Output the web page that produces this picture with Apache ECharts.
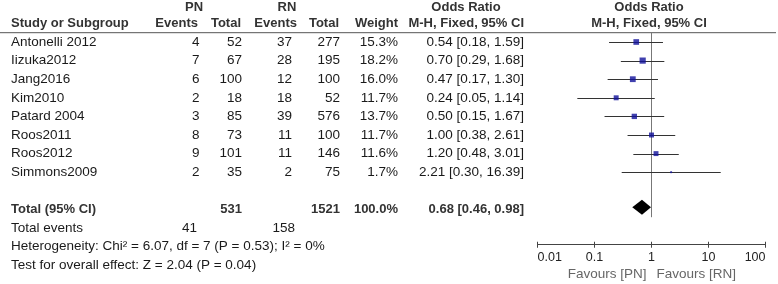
<!DOCTYPE html>
<html><head><meta charset="utf-8">
<script src="https://cdn.jsdelivr.net/npm/echarts@6/dist/echarts.min.js"></script>
<style>html,body{margin:0;padding:0;background:#fff}#c{width:778px;height:284px}</style>
</head><body><div id="c"></div>
<script>
const studies = ['Antonelli 2012','Iizuka2012','Jang2016','Kim2010','Patard 2004','Roos2011','Roos2012','Simmons2009'];
const pnEvents = [4,7,6,2,3,8,9,2];
const pnTotal = [52,67,100,18,85,73,101,35];
const rnEvents = [37,28,12,18,39,11,11,2];
const rnTotal = [277,195,100,52,576,100,146,75];
const weights = [15.3,18.2,16.0,11.7,13.7,11.7,11.6,1.7];
const oddsRatio = [0.54,0.70,0.47,0.24,0.50,1.00,1.20,2.21];
const ciLow = [0.18,0.29,0.17,0.05,0.15,0.38,0.48,0.30];
const ciHigh = [1.59,1.68,1.30,1.14,1.67,2.61,3.01,16.39];
const totalOR = [0.46,0.68,0.98];
const totalPN = 531, totalRN = 1521, totalWeight = '100.0%';
const totalEventsPN = 41, totalEventsRN = 158;
const heterogeneity = 'Heterogeneity: Chi² = 6.07, df = 7 (P = 0.53); I² = 0%';
const overallTest = 'Test for overall effect: Z = 2.04 (P = 0.04)';
const tickValues = [0.01,0.1,1,10,100];
const favours = ['Favours [PN]','Favours [RN]'];

const FF = '"Liberation Sans", Arial, sans-serif';
const REG = '13.5px ' + FF, BOLD = 'bold 13px ' + FF;
const TXT = '#1a1a1a', HDR = '#333';
// column layout (pixels)
const COL = {study:11, pnE:199.5, pnT:242, rnE:292, rnT:340, w:398, or:524, pnC:194, rnC:287, orC:466, plotC:649};

const cells = [];
function cell(row, x, text, align, font, color){ cells.push({row, x, text:String(text), align, font:font||REG, color:color||TXT}); }
// headers
cell(-1.88, COL.pnC, 'PN', 'center', BOLD, HDR);
cell(-1.88, COL.rnC, 'RN', 'center', BOLD, HDR);
cell(-1.88, COL.orC, 'Odds Ratio', 'center', BOLD, HDR);
cell(-1.88, COL.plotC, 'Odds Ratio', 'center', BOLD, HDR);
cell(-1, COL.study, 'Study or Subgroup', 'left', BOLD, HDR);
cell(-1, 198, 'Events', 'right', BOLD, HDR);
cell(-1, 241, 'Total', 'right', BOLD, HDR);
cell(-1, 297, 'Events', 'right', BOLD, HDR);
cell(-1, 339, 'Total', 'right', BOLD, HDR);
cell(-1, COL.w, 'Weight', 'right', BOLD, HDR);
cell(-1, COL.or, 'M-H, Fixed, 95% CI', 'right', BOLD, HDR);
cell(-1, COL.plotC, 'M-H, Fixed, 95% CI', 'center', BOLD, HDR);
studies.forEach((s,i)=>{
  cell(i, COL.study, s, 'left');
  cell(i, COL.pnE, pnEvents[i], 'right');
  cell(i, COL.pnT, pnTotal[i], 'right');
  cell(i, COL.rnE, rnEvents[i], 'right');
  cell(i, COL.rnT, rnTotal[i], 'right');
  cell(i, COL.w, weights[i].toFixed(1)+'%', 'right');
  cell(i, COL.or, oddsRatio[i].toFixed(2)+' ['+ciLow[i].toFixed(2)+', '+ciHigh[i].toFixed(2)+']', 'right');
});
const totRow = studies.length + 1;
cell(totRow, COL.study, 'Total (95% CI)', 'left', BOLD, HDR);
cell(totRow, COL.pnT, totalPN, 'right', BOLD, HDR);
cell(totRow, COL.rnT, totalRN, 'right', BOLD, HDR);
cell(totRow, COL.w, totalWeight, 'right', BOLD, HDR);
cell(totRow, COL.or, totalOR[1].toFixed(2)+' ['+totalOR[0].toFixed(2)+', '+totalOR[2].toFixed(2)+']', 'right', BOLD, HDR);
cell(totRow+1, COL.study, 'Total events', 'left');
cell(totRow+1, 197, totalEventsPN, 'right');
cell(totRow+1, 295, totalEventsRN, 'right');
cell(totRow+2, COL.study, heterogeneity, 'left');
cell(totRow+3, COL.study, overallTest, 'left');

const chart = echarts.init(document.getElementById('c'), null, {renderer:'canvas'});
const logAxisBase = {type:'log', logBase:10, min:0.01, max:100, splitLine:{show:false}, minorTick:{show:false}, minorSplitLine:{show:false}};
const option = {
  animation:false,
  grid:{left:537.5, width:228, top:32.7, height:212.04},
  xAxis:[
    Object.assign({}, logAxisBase, {
      position:'bottom',
      axisLine:{onZero:false, lineStyle:{color:'#444', width:1}},
      axisTick:{length:3, lineStyle:{color:'#444'}},
      axisLabel:{margin:6, fontSize:12.5, fontFamily:FF, color:'#222', alignMinLabel:'left', alignMaxLabel:'right',
        formatter:v=>String(parseFloat(Number(v).toPrecision(2)))}
    }),
    Object.assign({}, logAxisBase, {
      position:'bottom', axisLine:{show:false, onZero:false}, axisLabel:{show:false},
      axisTick:{inside:true, length:3, lineStyle:{color:'#444'}}
    })
  ],
  yAxis:{type:'value', inverse:true, min:-0.5, max:10.9, show:false},
  series:[
    { // header rule and null line
      type:'custom', silent:true, clip:false,
      data:[[1,-0.5, studies.length + 1.42]],
      renderItem:(p,api)=>{
        const top = api.coord([1, api.value(1)]);
        const bot = api.coord([1, api.value(2)]);
        return {type:'group', children:[
          {type:'line', shape:{x1:0, y1:top[1], x2:776, y2:top[1]}, style:{stroke:'#555', lineWidth:1}},
          {type:'line', shape:{x1:top[0], y1:top[1], x2:bot[0], y2:bot[1]}, style:{stroke:'#777', lineWidth:1}}
        ]};
      }
    },
    { // CI lines
      type:'custom', clip:false, silent:true,
      data:studies.map((s,i)=>[ciLow[i], ciHigh[i], i]),
      renderItem:(p,api)=>{
        const a = api.coord([api.value(0), api.value(2)]);
        const b = api.coord([api.value(1), api.value(2)]);
        return {type:'line', shape:{x1:a[0], y1:Math.round(a[1])+0.5, x2:b[0], y2:Math.round(a[1])+0.5}, style:{stroke:'#333', lineWidth:1}};
      }
    },
    { // squares
      type:'scatter', symbol:'rect', silent:true,
      data:studies.map((s,i)=>[oddsRatio[i], i, weights[i]]),
      symbolSize:v=>Math.max(1.8, Math.sqrt(v[2])*1.45),
      itemStyle:{color:'#10109a'}
    },
    { // diamond
      type:'custom', clip:false, silent:true,
      data:[[totalOR[0], totalOR[1], totalOR[2], totRow - 0.12]],
      renderItem:(p,api)=>{
        const r = api.value(3);
        const l = api.coord([api.value(0), r]);
        const c = api.coord([api.value(1), r]);
        const rr = api.coord([api.value(2), r]);
        const h = 7.5;
        return {type:'polygon', shape:{points:[[l[0],l[1]],[c[0],c[1]-h],[rr[0],rr[1]],[c[0],c[1]+h]]}, style:{fill:'#000'}};
      }
    },
    { // favours labels
      type:'custom', clip:false, silent:true,
      data:[[1, totRow + 3.5]],
      renderItem:(p,api)=>{
        const c = api.coord([api.value(0), api.value(1)]);
        return {type:'group', children:[
          {type:'text', style:{x:c[0]-5, y:c[1], text:favours[0], align:'right', verticalAlign:'middle', font:'13.5px '+FF, fill:'#666'}},
          {type:'text', style:{x:c[0]+5, y:c[1], text:favours[1], align:'left', verticalAlign:'middle', font:'13.5px '+FF, fill:'#666'}}
        ]};
      }
    },
    { // table text
      type:'custom', clip:false, silent:true,
      data:cells.map((c,i)=>[1, c.row, i]),
      renderItem:(p,api)=>{
        const c = cells[api.value(2)];
        const pt = api.coord([1, api.value(1)]);
        return {type:'text', style:{x:c.x, y:pt[1], text:c.text, align:c.align, verticalAlign:'middle', font:c.font, fill:c.color}};
      }
    }
  ]
};
chart.setOption(option);
</script></body></html>
